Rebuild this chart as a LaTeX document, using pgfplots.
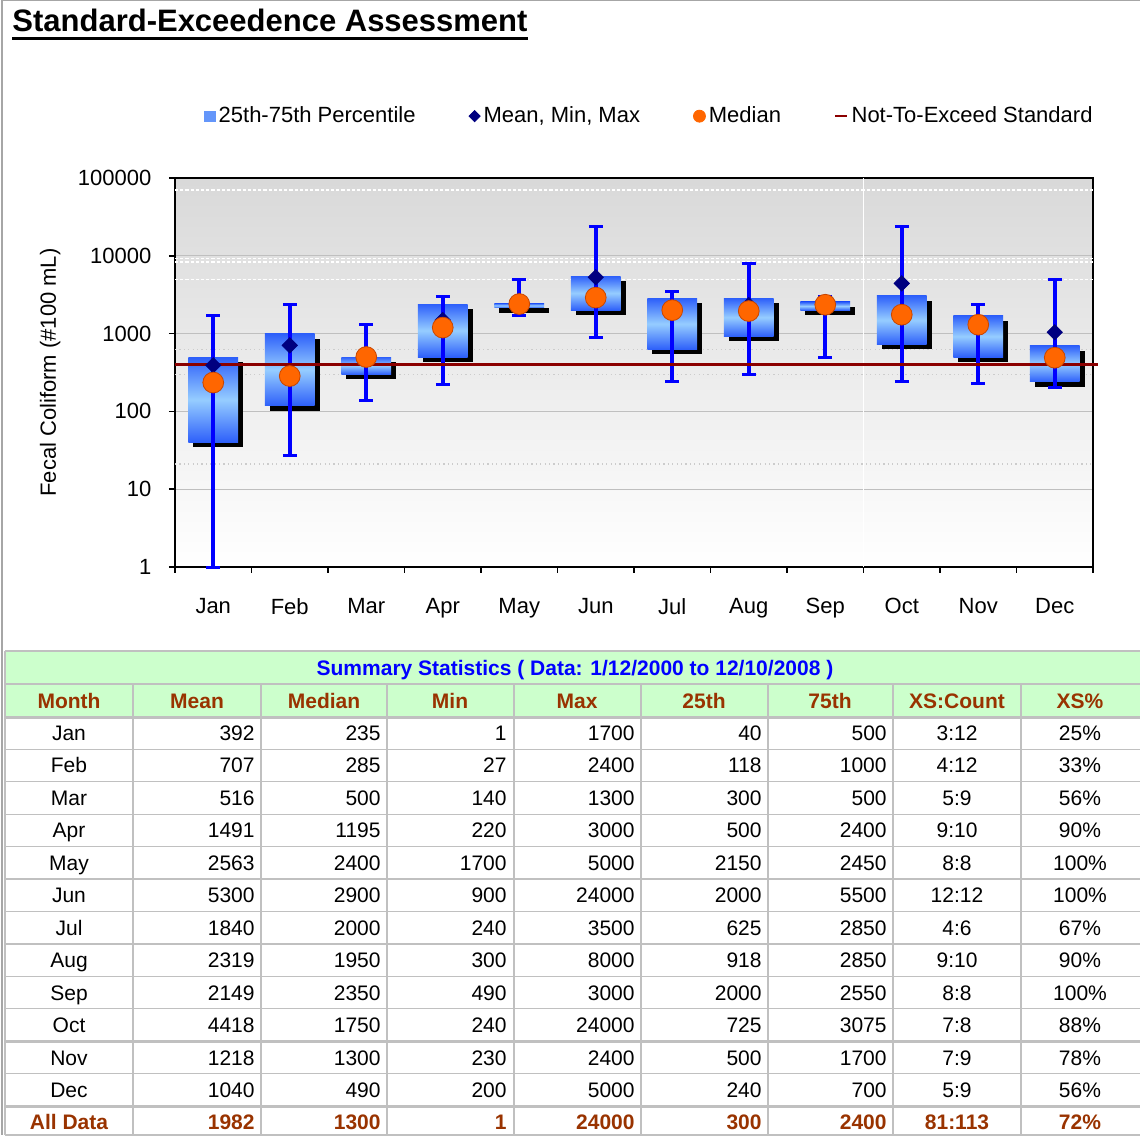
\documentclass[border=0pt]{standalone}
\usepackage{fontspec}
\setmainfont{Liberation Sans}
\usepackage{pgfplots}
\pgfplotsset{compat=1.18}
\usepackage{pgfplotstable}

\definecolor{boxdark}{RGB}{45,95,250}
\definecolor{boxlight}{RGB}{150,205,255}
\definecolor{boxmid}{RGB}{100,150,250}
\definecolor{whisk}{RGB}{0,0,255}
\definecolor{meancol}{RGB}{0,0,128}
\definecolor{medfill}{RGB}{255,102,0}
\definecolor{meddraw}{RGB}{200,70,0}
\definecolor{stdred}{RGB}{139,0,0}
\definecolor{hdrgreen}{RGB}{204,255,204}
\definecolor{hdrbrown}{RGB}{153,51,0}
\definecolor{tblline}{RGB}{192,192,192}

% monthly means and medians
\pgfplotstableread{
x mean median
1 392 235
2 707 285
3 516 500
4 1491 1195
5 2563 2400
6 5300 2900
7 1840 2000
8 2319 1950
9 2149 2350
10 4418 1750
11 1218 1300
12 1040 490
}\stats

% #1 month position, #2 box left, #3 box right, #4 min, #5 25th, #6 75th, #7 max
\newcommand\monthbox[7]{%
  \addplot[forget plot,draw=none,fill=black,xshift=2.5pt,yshift=-2.5pt]
    coordinates {(#2,#5) (#3,#5) (#3,#6) (#2,#6)} -- cycle;
  \addplot[forget plot,draw=none,top color=boxdark,bottom color=boxdark,middle color=boxlight]
    coordinates {(#2,#5) (#3,#5) (#3,#6) (#2,#6)} -- cycle;
  \addplot[forget plot,whisk,line width=1.8pt] coordinates {(#1,#4) (#1,#7)};
  \addplot[forget plot,whisk,line width=1.5pt,xshift=-3.5pt] coordinates {(#1,#4) (#1,#4)} -- ++(7pt,0pt);
  \addplot[forget plot,whisk,line width=1.5pt,xshift=-3.5pt] coordinates {(#1,#7) (#1,#7)} -- ++(7pt,0pt);
}

\begin{document}
\begin{tikzpicture}
\useasboundingbox (0,0) rectangle (570pt,-567.5pt);
\begin{axis}[
  at={(87.5pt,-283.5pt)},anchor=south west,
  scale only axis,width=459pt,height=194.5pt,
  ymode=log,ymin=1,ymax=100000,
  xmin=0.5,xmax=12.5,clip=false,
  ytick={1,10,100,1000,10000,100000},
  yticklabels={1,10,100,1000,10000,100000},
  yminorticks=false,
  xtick={1,...,12},
  xticklabels={Jan,Feb,Mar,Apr,May,Jun,Jul,Aug,Sep,Oct,Nov,Dec},
  minor xtick={0.5,1.5,...,12.5},
  major x tick style={draw=none},
  xtick pos=bottom,ytick pos=left,
  tick align=outside,major tick length=3pt,minor tick length=3pt,
  tick style={black,line width=0.8pt},
  axis line style={black,line width=0.9pt},
  ymajorgrids,grid style={gray!50,line width=0.6pt},
  axis background/.style={top color=gray!30,bottom color=white},
  /pgf/number format/assume math mode=true,
  tick label style={font=\fontsize{11}{13}\selectfont},
  xticklabel style={yshift=-9pt},
  yticklabel style={xshift=-5.3pt},
  ylabel={Fecal Coliform (\#100 mL)},
  ylabel style={font=\fontsize{11}{13}\selectfont,at={(axis description cs:-0.136,0.5)},anchor=center},
  legend columns=4,
  legend style={at={(0.517,1.159)},anchor=center,draw=none,fill=none,
    font=\fontsize{11}{13}\selectfont,
    nodes={inner xsep=1.5pt,inner ysep=1pt},
    /tikz/every even column/.append style={column sep=25pt}},
  legend cell align=left,
]
\addlegendimage{legend image code/.code={\fill[boxmid] (0pt,-2.6pt) rectangle (5.6pt,2.6pt);}}
\addlegendentry{25th-75th Percentile}
\addlegendimage{legend image code/.code={\fill[meancol] (2.8pt,-2.8pt) -- (5.6pt,0pt) -- (2.8pt,2.8pt) -- (0pt,0pt) -- cycle;}}
\addlegendentry{Mean, Min, Max}
\addlegendimage{legend image code/.code={\fill[medfill] (2.8pt,0pt) circle (3pt);}}
\addlegendentry{Median}
\addlegendimage{legend image code/.code={\draw[stdred,line width=1.3pt] (0pt,0pt) -- (6pt,0pt);}}
\addlegendentry{Not-To-Exceed Standard}

% reference lines in the plot area
\addplot[white,line width=0.7pt,dash pattern=on 1.6pt off 1pt,forget plot] coordinates {(0.5,70000) (12.5,70000)};
\addplot[white,line width=0.7pt,dash pattern=on 1.6pt off 1pt,forget plot] coordinates {(0.5,9300) (12.5,9300)};
\addplot[white,line width=0.7pt,dash pattern=on 1.6pt off 1pt,forget plot] coordinates {(0.5,8300) (12.5,8300)};
\addplot[white,line width=0.7pt,dash pattern=on 1.6pt off 1pt,forget plot] coordinates {(0.5,5000) (12.5,5000)};
\addplot[gray!40,line width=0.7pt,dash pattern=on 0.6pt off 1.6pt,forget plot] coordinates {(0.5,620) (12.5,620)};
\addplot[gray!40,line width=0.7pt,dash pattern=on 0.6pt off 1.6pt,forget plot] coordinates {(0.5,300) (12.5,300)};
\addplot[gray!40,line width=0.7pt,dash pattern=on 0.6pt off 1.6pt,forget plot] coordinates {(0.5,21) (12.5,21)};
\addplot[white,line width=0.7pt,forget plot] coordinates {(9.5,1) (9.5,100000)};

% boxes and whiskers: min, 25th, 75th, max
\monthbox{1}{0.675}{1.325}{1}{40}{500}{1700}
\monthbox{2}{1.675}{2.325}{27}{118}{1000}{2400}
\monthbox{3}{2.675}{3.325}{140}{300}{500}{1300}
\monthbox{4}{3.675}{4.325}{220}{500}{2400}{3000}
\monthbox{5}{4.675}{5.325}{1700}{2150}{2450}{5000}
\monthbox{6}{5.675}{6.325}{900}{2000}{5500}{24000}
\monthbox{7}{6.675}{7.325}{240}{625}{2850}{3500}
\monthbox{8}{7.675}{8.325}{300}{918}{2850}{8000}
\monthbox{9}{8.675}{9.325}{490}{2000}{2550}{3000}
\monthbox{10}{9.675}{10.325}{240}{725}{3075}{24000}
\monthbox{11}{10.675}{11.325}{230}{500}{1700}{2400}
\monthbox{12}{11.675}{12.325}{200}{240}{700}{5000}

% not-to-exceed standard
\addplot[stdred,line width=1.5pt,forget plot] coordinates {(0.5,400) (12.56,400)};

\addplot[only marks,mark=square*,mark size=2.7pt,mark options={rotate=45,fill=meancol,draw=meancol},forget plot] table[x=x,y=mean]{\stats};
\addplot[only marks,mark=*,mark size=5.2pt,mark options={fill=medfill,draw=meddraw,line width=0.4pt},forget plot] table[x=x,y=median]{\stats};
\end{axis}

\begin{scope}[x=0.5pt,y=-0.5pt]
\draw[gray!70,line width=1pt] (2,0) -- (2,1135);
\draw[gray!70,line width=0.6pt] (2,0.6) -- (1140,0.6);
\node[anchor=base west,inner sep=0pt,font=\bfseries\fontsize{15.5}{18}\selectfont] at (12,32) {Standard-Exceedence Assessment};
\draw[line width=1.1pt] (12,38.5) -- (528,38.5);

% summary table
\fill[hdrgreen] (5,651) rectangle (1140,717);
\draw[tblline,line width=0.6pt] (5,651) -- (1140,651) (5,684) -- (1140,684);
\foreach \xx in {133,261,387,514,641,768,893,1021}
  \draw[tblline,line width=0.6pt] (\xx,684) -- (\xx,1135);
\foreach \yy in {749.2,781.7,814.1,846.6,911.5,943.9,976.4,1008.8,1073.7,1135}
  \draw[tblline,line width=0.6pt] (5,\yy) -- (1140,\yy);
\draw[tblline,line width=1.5pt] (5,717) -- (1140,717);
\draw[tblline,line width=1.2pt] (5,879) -- (1140,879);
\draw[tblline,line width=1.2pt] (5,1041.3) -- (1140,1041.3);
\draw[tblline,line width=1.5pt] (5,1106.2) -- (1140,1106.2);
\draw[tblline,line width=0.6pt] (5,651) -- (5,1135);

\begin{scope}[every node/.style={inner sep=0pt,font=\fontsize{10.5}{12}\selectfont}]
\node[anchor=base,text=blue,font=\bfseries\fontsize{10.5}{12}\selectfont] at (575,675.5) {Summary Statistics ( Data: 1/12/2000 to 12/10/2008 )};
\foreach \h/\xc in {Month/69,Mean/197,Median/324,Min/450,Max/577,25th/704,75th/830,XS:Count/957,XS\%/1080}
  \node[anchor=base,text=hdrbrown,font=\bfseries\fontsize{10.5}{12}\selectfont] at (\xc,708.5) {\h};
\foreach \m/\a/\b/\c/\d/\e/\f/\g/\p [count=\i from 0] in {
  Jan/392/235/1/1700/40/500/3:12/25,
  Feb/707/285/27/2400/118/1000/4:12/33,
  Mar/516/500/140/1300/300/500/5:9/56,
  Apr/1491/1195/220/3000/500/2400/9:10/90,
  May/2563/2400/1700/5000/2150/2450/8:8/100,
  Jun/5300/2900/900/24000/2000/5500/12:12/100,
  Jul/1840/2000/240/3500/625/2850/4:6/67,
  Aug/2319/1950/300/8000/918/2850/9:10/90,
  Sep/2149/2350/490/3000/2000/2550/8:8/100,
  Oct/4418/1750/240/24000/725/3075/7:8/88,
  Nov/1218/1300/230/2400/500/1700/7:9/78,
  Dec/1040/490/200/5000/240/700/5:9/56}{
  \pgfmathsetmacro\yb{733+32.45*\i+7.5}
  \node[anchor=base] at (69,\yb) {\m};
  \node[anchor=base east] at (255,\yb) {\a};
  \node[anchor=base east] at (381,\yb) {\b};
  \node[anchor=base east] at (507,\yb) {\c};
  \node[anchor=base east] at (635,\yb) {\d};
  \node[anchor=base east] at (762,\yb) {\e};
  \node[anchor=base east] at (887,\yb) {\f};
  \node[anchor=base] at (957,\yb) {\g};
  \node[anchor=base] at (1080,\yb) {\p\%};
}
\begin{scope}[every node/.style={inner sep=0pt,text=hdrbrown,font=\bfseries\fontsize{10.5}{12}\selectfont}]
  \node[anchor=base] at (69,1129.5) {All Data};
  \node[anchor=base east] at (255,1129.5) {1982};
  \node[anchor=base east] at (381,1129.5) {1300};
  \node[anchor=base east] at (507,1129.5) {1};
  \node[anchor=base east] at (635,1129.5) {24000};
  \node[anchor=base east] at (762,1129.5) {300};
  \node[anchor=base east] at (887,1129.5) {2400};
  \node[anchor=base] at (957,1129.5) {81:113};
  \node[anchor=base] at (1080,1129.5) {72\%};
\end{scope}
\end{scope}
\end{scope}
\end{tikzpicture}
\end{document}
